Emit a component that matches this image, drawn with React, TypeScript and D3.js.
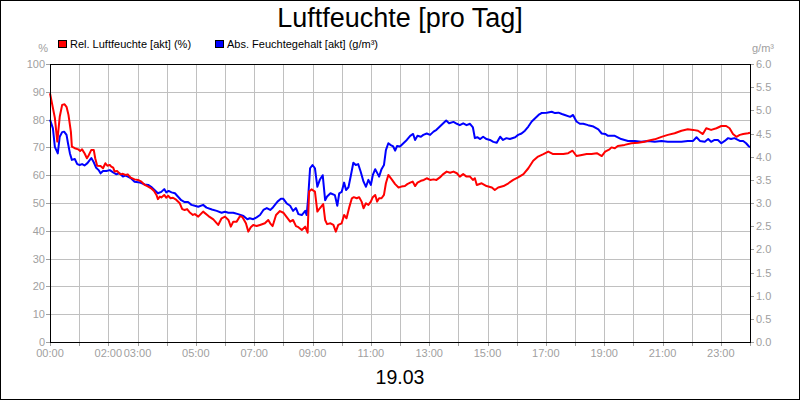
import React from "react";
import * as d3 from "d3";

const titleText = "Luftfeuchte [pro Tag]";
const dateText = "19.03";
const relLabel = "Rel. Luftfeuchte [akt] (%)";
const absLabel = "Abs. Feuchtegehalt [akt] (g/m³)";

const xTickHours = [0, 2, 3, 5, 7, 9, 11, 13, 15, 17, 19, 21, 23];
const xTickLabels = ["00:00", "02:00", "03:00", "05:00", "07:00", "09:00", "11:00", "13:00", "15:00", "17:00", "19:00", "21:00", "23:00"];
const leftTicks = [0, 10, 20, 30, 40, 50, 60, 70, 80, 90, 100];
const rightTicks = [0, 0.5, 1, 1.5, 2, 2.5, 3, 3.5, 4, 4.5, 5, 5.5, 6];

// minutes since midnight
const relMinutes = [0,10,15,20,25,30,34,38,43,45,51,58,62,66,71,76,80,85,90,93,97,104,109,114,118,123,126,130,133,138,141,145,150,155,160,166,174,181,188,195,202,208,214,219,222,226,229,235,239,243,248,253,260,267,272,277,282,287,294,298,305,315,326,336,346,353,360,367,372,377,384,391,396,403,408,413,418,425,432,442,449,453,458,465,473,480,487,494,500,506,511,518,525,530,533,538,545,550,555,562,566,570,577,583,588,593,600,605,610,616,621,625,631,636,641,645,650,655,660,664,669,673,677,682,687,691,696,703,710,717,723,730,735,741,746,751,756,763,769,775,782,789,795,802,809,816,823,830,837,843,850,857,864,870,874,878,888,898,909,915,922,933,943,953,963,974,984,994,1004,1015,1025,1035,1046,1056,1066,1075,1083,1094,1104,1114,1125,1135,1142,1151,1155,1162,1168,1182,1196,1210,1223,1230,1244,1258,1271,1285,1299,1312,1323,1333,1343,1350,1360,1371,1381,1391,1398,1405,1412,1419,1426,1436,1440];
const relValues = [89.5,80.6,72.1,81.0,85.3,85.5,84.6,81.7,75.6,70.3,69.7,69.3,68.7,69.3,67.9,66.1,67.3,69.1,69.1,66.1,63.4,63.3,62.5,64.3,63.4,63.7,63.1,62.7,61.3,61.5,61.0,60.3,60.5,60.1,60.3,59.1,58.5,58.3,57.7,56.5,55.9,55.3,54.3,52.9,51.4,52.3,52.0,52.9,51.9,52.6,51.7,51.9,51.1,49.9,47.8,47.5,47.8,46.7,45.7,46.0,45.1,46.9,45.3,44.1,42.1,44.5,45.1,43.9,41.5,43.3,43.3,45.3,44.9,42.7,39.7,41.3,42.1,41.7,42.1,42.7,43.9,42.7,41.7,45.7,47.1,46.5,44.9,43.3,43.9,41.7,41.3,40.3,41.5,39.3,54.1,54.9,54.1,46.9,48.1,49.6,43.9,42.4,42.7,42.1,39.7,42.1,42.7,45.7,44.5,48.7,51.7,52.1,51.7,52.1,50.5,48.1,49.9,49.3,50.5,52.1,52.9,50.5,51.7,51.7,52.9,57.1,60.1,58.5,56.8,55.6,55.9,56.1,56.8,57.3,57.7,56.1,57.3,58.0,58.3,58.9,58.3,58.5,58.3,59.2,60.4,61.3,60.9,61.3,60.7,59.5,60.4,59.5,59.5,58.3,58.9,56.5,57.1,56.1,55.6,54.7,55.6,56.1,57.1,58.3,59.2,60.4,62.5,65.2,66.7,67.6,68.5,67.6,67.6,67.6,67.9,68.8,66.9,67.3,67.6,67.6,67.9,66.9,68.5,69.3,70.0,69.7,70.5,70.9,71.5,71.7,72.0,72.4,72.9,73.8,74.5,75.1,76.0,76.5,76.3,76.0,74.8,76.9,76.3,76.9,77.7,77.7,76.9,74.8,73.8,74.5,74.8,75.1,75.3];

const absMinutes = [0,6,10,13,16,20,25,29,34,37,41,45,51,56,61,66,71,77,82,85,90,95,100,104,109,116,123,130,136,143,150,155,160,167,174,181,188,195,202,208,215,222,229,235,239,244,250,257,263,270,277,284,291,298,305,315,322,333,343,353,360,367,377,387,398,406,411,418,425,432,439,446,453,459,468,475,480,487,494,500,506,511,518,525,528,531,535,540,545,550,555,561,566,570,577,586,588,591,595,600,605,609,614,619,624,629,634,639,645,650,655,660,664,669,673,677,682,687,691,696,701,706,710,714,720,727,734,741,747,751,756,763,768,775,782,789,795,802,809,815,821,830,837,843,850,857,864,870,874,879,885,891,898,905,912,919,926,932,939,946,957,963,970,977,984,991,998,1005,1011,1022,1032,1039,1046,1053,1059,1070,1076,1083,1090,1097,1107,1118,1128,1135,1142,1148,1155,1162,1175,1189,1203,1216,1230,1244,1258,1271,1285,1299,1312,1323,1330,1337,1347,1354,1360,1367,1374,1381,1388,1395,1401,1408,1419,1426,1432,1437,1440];
const absValues = [4.8,4.61,4.21,4.14,4.07,4.43,4.53,4.54,4.47,4.29,4.07,3.93,3.95,3.84,3.82,3.84,3.81,3.86,3.93,3.97,3.88,3.76,3.71,3.64,3.69,3.69,3.71,3.66,3.62,3.64,3.57,3.59,3.57,3.53,3.46,3.45,3.43,3.40,3.39,3.35,3.28,3.21,3.24,3.30,3.23,3.26,3.23,3.21,3.14,3.06,3.02,3.02,2.96,2.94,2.92,2.96,2.90,2.86,2.83,2.79,2.81,2.79,2.79,2.76,2.72,2.65,2.67,2.65,2.69,2.74,2.85,2.89,2.85,2.91,3.03,3.09,3.09,2.99,2.94,2.83,2.89,2.76,2.74,2.83,2.74,3.10,3.75,3.82,3.75,3.35,3.50,3.60,3.06,3.14,3.21,3.17,3.08,2.94,3.21,3.24,3.44,3.28,3.34,3.60,3.87,3.82,3.84,3.68,3.46,3.35,3.50,3.39,3.60,3.73,3.65,3.57,3.73,3.82,4.14,4.29,4.25,4.22,4.13,4.23,4.22,4.29,4.36,4.45,4.49,4.36,4.45,4.43,4.47,4.50,4.47,4.54,4.58,4.65,4.72,4.78,4.72,4.75,4.71,4.68,4.72,4.68,4.71,4.63,4.40,4.42,4.38,4.43,4.38,4.36,4.32,4.30,4.43,4.36,4.40,4.38,4.42,4.47,4.50,4.56,4.65,4.76,4.83,4.90,4.94,4.95,4.97,4.94,4.95,4.92,4.90,4.86,4.90,4.76,4.71,4.71,4.68,4.65,4.59,4.50,4.49,4.45,4.45,4.45,4.38,4.34,4.34,4.32,4.34,4.32,4.34,4.32,4.32,4.32,4.34,4.34,4.42,4.34,4.32,4.38,4.32,4.36,4.36,4.29,4.34,4.40,4.38,4.40,4.34,4.34,4.29,4.23,4.20];

const FONT = "'Liberation Sans', Arial, sans-serif";
const GRAY = "#a0a0a0";
const GRID = "#c0c0c0";

export default function App() {
  const W = 800, H = 400;
  const L = 50, R = 750, T = 64, B = 342;
  const x = d3.scaleLinear().domain([0, 1440]).range([L, R]);
  const yL = d3.scaleLinear().domain([0, 100]).range([B, T]);
  const yR = d3.scaleLinear().domain([0, 6]).range([B, T]);
  const hours = d3.range(0, 25);

  const relLine = d3.line<number>().x((_, i) => x(relMinutes[i])).y((d) => yL(d));
  const absLine = d3.line<number>().x((_, i) => x(absMinutes[i])).y((d) => yR(d));

  return (
    <svg width={W} height={H} style={{ position: "absolute", left: 0, top: 0, background: "#fff" }} fontFamily={FONT}>
      <rect x={0.5} y={0.5} width={W - 1} height={H - 1} fill="#fff" stroke="#000" />
      <text x={400} y={27} textAnchor="middle" fontSize={27} fill="#000">{titleText}</text>

      {/* legend */}
      <rect x={58.5} y={40.5} width={8} height={7} fill="#ff0000" stroke="#000" />
      <text x={70} y={48} fontSize={11} fill="#000">{relLabel}</text>
      <rect x={215.5} y={40.5} width={8} height={7} fill="#0000ff" stroke="#000" />
      <text x={227} y={48} fontSize={11} fill="#000">{absLabel}</text>

      <text x={48} y={52} textAnchor="end" fontSize={11} fill={GRAY}>%</text>
      <text x={752} y={52} fontSize={11} fill={GRAY}>g/m³</text>

      {/* grid */}
      {hours.slice(1, 24).map((h) => (
        <line key={"vg" + h} x1={Math.round(x(h * 60)) + 0.5} x2={Math.round(x(h * 60)) + 0.5} y1={T} y2={B} stroke={GRID} />
      ))}
      {leftTicks.slice(1, 10).map((v) => (
        <line key={"hg" + v} x1={L} x2={R} y1={Math.round(yL(v)) + 0.5} y2={Math.round(yL(v)) + 0.5} stroke={GRID} />
      ))}

      {/* ticks */}
      {hours.map((h) => (
        <line key={"xt" + h} x1={Math.round(x(h * 60)) + 0.5} x2={Math.round(x(h * 60)) + 0.5} y1={B} y2={B + 4} stroke={GRAY} />
      ))}
      {leftTicks.map((v) => (
        <g key={"lt" + v}>
          <line x1={L - 4} x2={L} y1={Math.round(yL(v)) + 0.5} y2={Math.round(yL(v)) + 0.5} stroke={GRAY} />
          <text x={L - 5} y={yL(v) + 4} textAnchor="end" fontSize={11} fill={GRAY}>{v}</text>
        </g>
      ))}
      {rightTicks.map((v) => (
        <g key={"rt" + v}>
          <line x1={R} x2={R + 4} y1={Math.round(yR(v)) + 0.5} y2={Math.round(yR(v)) + 0.5} stroke={GRAY} />
          <text x={R + 6} y={yR(v) + 4} fontSize={11} fill={GRAY}>{d3.format(".1f")(v)}</text>
        </g>
      ))}
      {xTickHours.map((h, i) => (
        <text key={"xl" + h} x={x(h * 60)} y={357} textAnchor="middle" fontSize={11} fill={GRAY}>{xTickLabels[i]}</text>
      ))}

      {/* lines */}
      <path d={absLine(absValues) || ""} fill="none" stroke="#0000ff" strokeWidth={2} strokeLinejoin="round" />
      <path d={relLine(relValues) || ""} fill="none" stroke="#ff0000" strokeWidth={2} strokeLinejoin="round" />

      {/* frame */}
      <rect x={L + 0.5} y={T + 0.5} width={R - L} height={B - T} fill="none" stroke="#000" />

      <text x={400} y={384} textAnchor="middle" fontSize={19.5} fill="#000">{dateText}</text>
    </svg>
  );
}
